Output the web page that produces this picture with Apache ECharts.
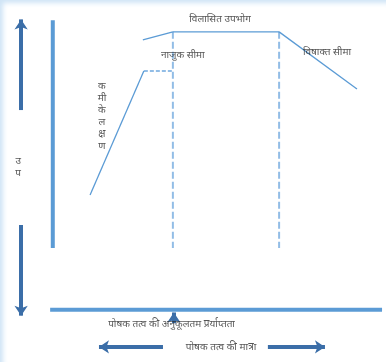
<!DOCTYPE html>
<html>
<head>
<meta charset="utf-8">
<script src="https://cdn.jsdelivr.net/npm/echarts@6/dist/echarts.min.js"></script>
<style>
html,body{margin:0;padding:0;background:#fff;}
body{width:386px;height:362px;overflow:hidden;box-shadow:inset 4px 4px 5px -1px #cfe4f6;}
#c{width:386px;height:362px;}
</style>
</head>
<body>
<div id="c"></div>
<script>
// ---- data (x: nutrient amount, y: yield) ----
const deficiencyLine = [[11.3, 39.7], [27.6, 82.5]];
const riseSegment = [[27.3, 93.2], [36.4, 96.0]];
const plateau = [[36.4, 96.0], [68.6, 96.0]];
const toxicLine = [[68.6, 96.0], [92.2, 76.3]];
const criticalDashH = [[27.6, 82.5], [36.4, 82.5]];
const criticalLimit = [[36.4, 96.0], [36.4, 21.4]];
const toxicLimit = [[68.6, 96.0], [68.6, 21.4]];
const yAxisBar = [[0, 100], [0, 21.4]];
const xAxisBar = [[-0.8, 0], [99.8, 0]];
const arrows = [
  [[-9.6, 69], [-9.6, 100.3]],
  [[-9.6, 29.3], [-9.6, -2.0]],
  [[36.7, -4.6], [36.7, -0.9]],
  [[33.4, -12.8], [14.0, -12.8]],
  [[65.2, -12.8], [82.5, -12.8]]
];
const labelNames = ['विलासित उपभोग', 'नाजुक सीमा', 'विषाक्त सीमा', 'क\nमी\nके\nल\nक्ष\nण', 'उ\nप', 'पोषक तत्व की अनुकूलतम प्रर्याप्तता', 'पोषक तत्व की मात्रा'];
const labelPos = [[50.7, 100.4], [39.4, 88.0], [83.1, 89.0], [14.9, 66.9], [-10.5, 49.3], [36.0, -4.9], [51.0, -12.8]];

const lineBlue = '#5b9bd5';
const dashBlue = '#92bde6';
const arrowBlue = '#3b6ea8';
const font = '"Noto Sans", "Noto Sans Devanagari", "Lohit Devanagari", sans-serif';

function seg(data, color, width, type, z) {
  return {type: 'line', data: data, symbol: 'none', silent: true, z: z || 2,
    lineStyle: {color: color, width: width, type: type || 'solid', cap: 'butt'}};
}

const chart = echarts.init(document.getElementById('c'), null, {renderer: 'canvas'});
chart.setOption({
  animation: false,
  backgroundColor: 'transparent',
  grid: {left: 0, right: 0, top: 0, bottom: 0},
  xAxis: {type: 'value', min: -16, max: 101, show: false},
  yAxis: {type: 'value', min: -18, max: 107, show: false},
  series: [
    seg(yAxisBar, lineBlue, 4),
    seg(xAxisBar, lineBlue, 4),
    seg(criticalLimit, dashBlue, 2, [7, 3]),
    seg(toxicLimit, dashBlue, 2, [7, 3]),
    seg(criticalDashH, dashBlue, 2, [4, 2]),
    seg(deficiencyLine, lineBlue, 1.3),
    seg(riseSegment, lineBlue, 1.3),
    seg(plateau, lineBlue, 1.3),
    seg(toxicLine, lineBlue, 1.3),
    {
      type: 'lines', coordinateSystem: 'cartesian2d', silent: true, z: 3,
      symbol: ['none', 'arrow'], symbolSize: 10,
      lineStyle: {color: arrowBlue, width: 4, opacity: 1, curveness: 0},
      data: arrows.map(a => ({coords: a}))
    },
    {
      type: 'scatter', symbolSize: 0, silent: true, z: 5,
      data: labelNames.map((n, i) => ({name: n, value: labelPos[i]})),
      label: {show: true, position: 'inside', formatter: '{b}', color: '#2a2a2a',
        fontSize: 10, fontFamily: font, lineHeight: 12, align: 'center', verticalAlign: 'middle'}
    }
  ]
});
</script>
</body>
</html>
